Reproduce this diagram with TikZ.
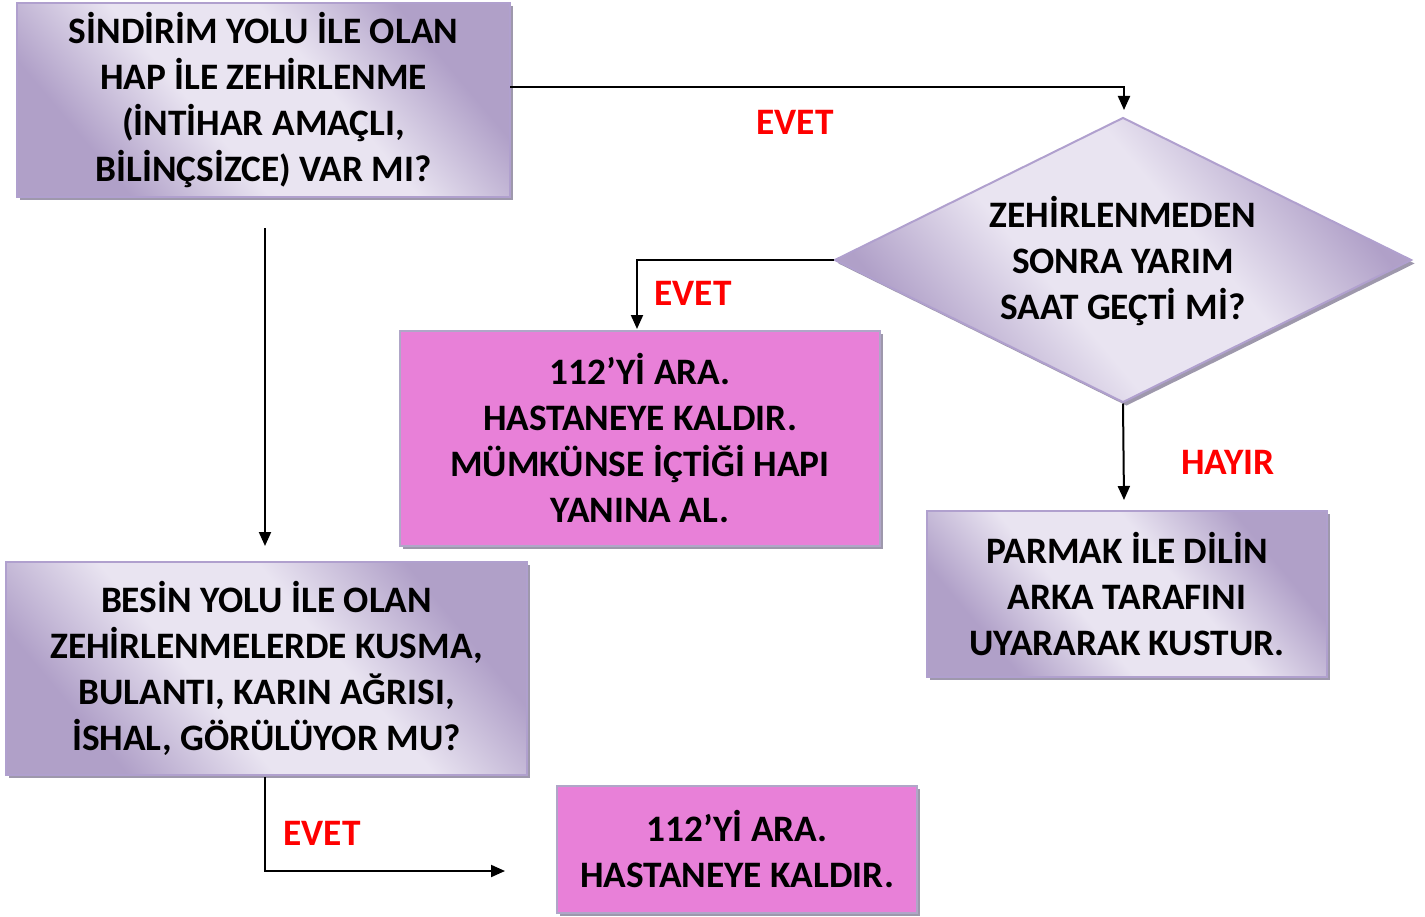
\documentclass[tikz,border=0pt]{standalone}
\usepackage{fontspec}
\setmainfont{Carlito}
\usetikzlibrary{shapes.geometric,shadows,arrows.meta}
\definecolor{lavlight}{RGB}{233,228,241}
\definecolor{lavdark}{RGB}{176,160,200}
\definecolor{lavborder}{RGB}{176,160,206}
\definecolor{pinkfill}{RGB}{232,128,216}
\definecolor{pinkborder}{RGB}{176,166,200}
\definecolor{shadowgray}{RGB}{158,152,172}
\definecolor{labelred}{RGB}{255,0,0}
\pgfdeclarehorizontalshading{lavshade}{100bp}{color(0bp)=(lavdark); color(27bp)=(lavdark); color(42bp)=(lavlight); color(58bp)=(lavlight); color(73bp)=(lavdark); color(100bp)=(lavdark)}
\tikzset{
  base/.style={inner sep=0pt, line width=1.5pt, font=\bfseries\fontsize{28}{34.5}\selectfont, align=center,
    drop shadow={shadow xshift=2.6pt, shadow yshift=-2.6pt, fill=shadowgray, opacity=1}},
  lavbox/.style={base, rectangle, draw=lavborder, shading=lavshade, shading angle=40},
  pinkbox/.style={base, rectangle, draw=pinkborder, fill=pinkfill},
  dia/.style={base, diamond, draw=lavborder, shading=lavshade, shading angle=40},
  txt/.style={inner sep=0pt, font=\bfseries\fontsize{28}{34.5}\selectfont, align=center},
  lbl/.style={inner sep=0pt, text=labelred, font=\bfseries\fontsize{28}{34.5}\selectfont},
  arr/.style={line width=1.5pt, -{Triangle[length=10.5pt,width=9pt]}},
}
\begin{document}
\begin{tikzpicture}[x=0.75pt,y=-0.75pt]
\useasboundingbox (0,0) rectangle (1425,917);
\node[lavbox, minimum width=493*0.75pt, minimum height=194*0.75pt] (A) at (263.5,100)
  {SİNDİRİM YOLU İLE OLAN\\HAP İLE ZEHİRLENME\\(İNTİHAR AMAÇLI,\\BİLİNÇSİZCE) VAR MI?};
\node[dia, minimum width=577*0.75pt, minimum height=285*0.75pt] (D) at (1123,260) {};
\node[txt] (Dt) at ([yshift=-1pt]D.center) {ZEHİRLENMEDEN\\SONRA YARIM\\SAAT GEÇTİ Mİ?};
\node[pinkbox, minimum width=480*0.75pt, minimum height=215*0.75pt] (P1) at (640,438.5)
  {112’Yİ ARA.\\HASTANEYE KALDIR.\\MÜMKÜNSE İÇTİĞİ HAPI\\YANINA AL.};
\node[lavbox, minimum width=400*0.75pt, minimum height=166*0.75pt] (R) at (1127,594)
  {PARMAK İLE DİLİN\\ARKA TARAFINI\\UYARARAK KUSTUR.};
\node[lavbox, minimum width=521*0.75pt, minimum height=213*0.75pt] (B) at (266.5,668.5)
  {BESİN YOLU İLE OLAN\\ZEHİRLENMELERDE KUSMA,\\BULANTI, KARIN AĞRISI,\\İSHAL, GÖRÜLÜYOR MU?};
\node[pinkbox, minimum width=360*0.75pt, minimum height=127*0.75pt] (P2) at (737,849.5)
  {112’Yİ ARA.\\HASTANEYE KALDIR.};
% labels
\node[lbl] (L1) at (795,122) {EVET};
\node[lbl] (L2) at (693,293) {EVET};
\node[lbl] (L3) at (1228,462) {HAYIR};
\node[lbl] (L4) at (322,833) {EVET};
% coordinates
\coordinate (a1) at (510,87);
\coordinate (dtop) at (1124,110);
\coordinate (p1top) at (637,329);
\coordinate (rtop) at (1124,500);
\coordinate (v1) at (265,228);
\coordinate (v2) at (265,546);
\coordinate (bbot) at (265,777);
\coordinate (e2) at (505,871);
% connectors
\draw[arr] (a1) -| (dtop);
\draw[arr] (D.west) -| (p1top);
\draw[arr] (D.south) -- (rtop);
\draw[arr] (v1) -- (v2);
\draw[arr] (bbot) |- (e2);
\end{tikzpicture}
\end{document}
